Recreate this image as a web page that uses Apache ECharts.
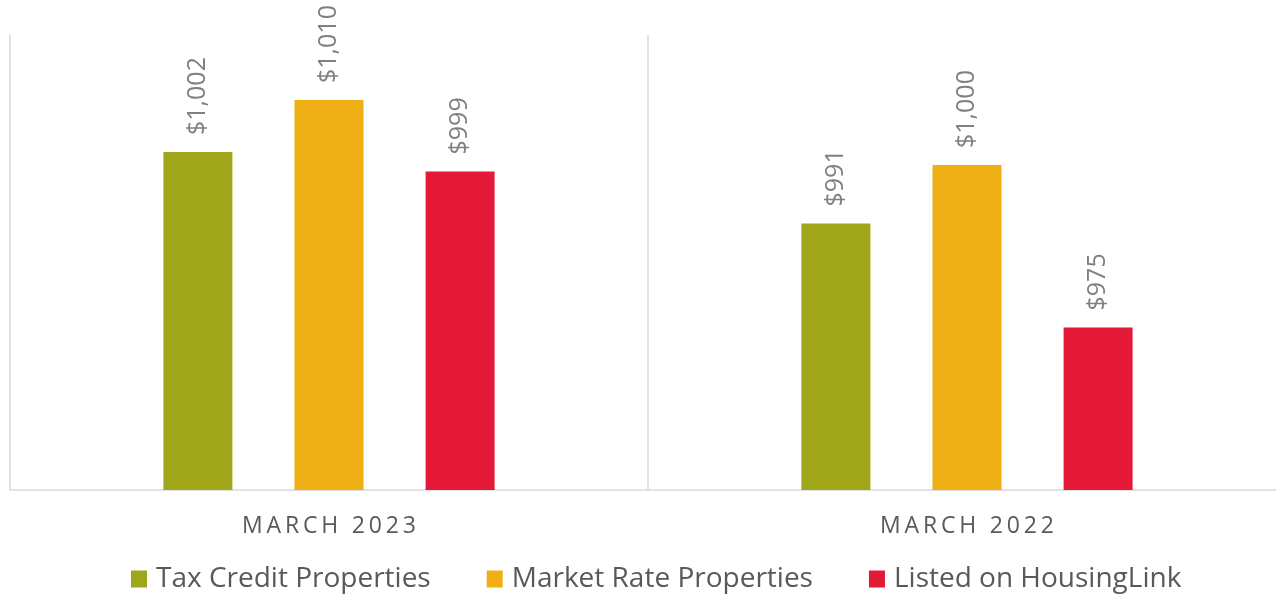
<!DOCTYPE html>
<html><head><meta charset="utf-8">
<script src="https://cdn.jsdelivr.net/npm/echarts@6/dist/echarts.min.js"></script>
<style>html,body{margin:0;padding:0;background:#fff;overflow:hidden;width:1276px;height:596px}#c{width:1296px;height:596px}</style>
</head><body><div id="c"></div>
<script>
const categories = ['MARCH 2023', 'MARCH 2022'];
const seriesNames = ['Tax Credit Properties', 'Market Rate Properties', 'Listed on HousingLink'];
const taxCredit = [1002, 991];
const marketRate = [1010, 1000];
const housingLink = [999, 975];
const colors = ['#A0A619', '#EEB015', '#E31937'];

const spaced = s => s.split('').join('\u2009');
const font = '"Open Sans", "Noto Sans", sans-serif';
const chart = echarts.init(document.getElementById('c'));
const mk = (name, data, color) => ({
  name, type: 'bar', data, barWidth: 69, barGap: '90%',
  itemStyle: { color },
  label: {
    show: true, position: 'top', rotate: 90, align: 'left', verticalAlign: 'middle', distance: 17,
    color: '#808080', fontSize: 25, fontFamily: font,
    formatter: p => '$' + p.value.toLocaleString('en-US')
  }
});
chart.setOption({
  animation: false,
  color: colors,
  grid: { left: 10, right: 10, top: 35, bottom: 106, containLabel: false },
  xAxis: {
    type: 'category', data: categories,
    axisLine: { lineStyle: { color: '#d9d9d9', width: 1.5 } },
    axisTick: { show: false },
    splitLine: { show: true, lineStyle: { color: '#d9d9d9', width: 1.5 } },
    axisLabel: { color: '#595959', fontSize: 23, fontFamily: font, margin: 25, formatter: v => spaced(v) }
  },
  yAxis: { type: 'value', min: 950, max: 1020, show: false, splitLine: { show: false } },
  legend: {
    top: 560, left: 126, itemWidth: 16, itemHeight: 17, itemGap: 56, icon: 'rect',
    textStyle: { color: '#595959', fontSize: 28, fontFamily: font, padding: [0, 0, 0, 4] },
    data: seriesNames
  },
  series: [
    mk(seriesNames[0], taxCredit, colors[0]),
    mk(seriesNames[1], marketRate, colors[1]),
    mk(seriesNames[2], housingLink, colors[2])
  ]
});
</script></body></html>
